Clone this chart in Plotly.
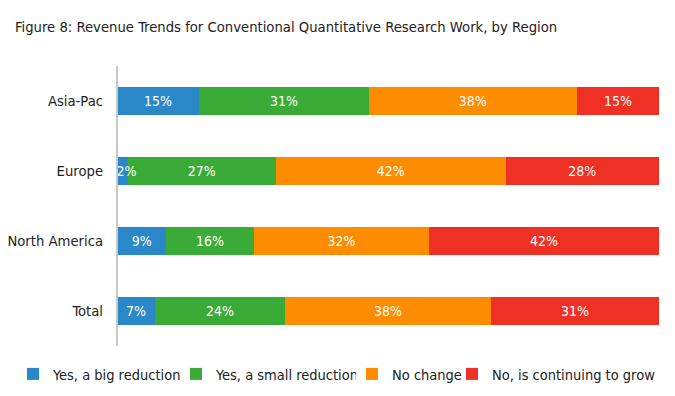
import plotly.graph_objects as go

regions = ["Asia-Pac", "Europe", "North America", "Total"]
series_names = ["Yes, a big reduction", "Yes, a small reduction", "No change", "No, is continuing to grow"]
big_reduction = [15, 2, 9, 7]
small_reduction = [31, 27, 16, 24]
no_change = [38, 42, 32, 38]
growing = [15, 28, 42, 31]
colors = ["#2a88c8", "#3bab38", "#fe8c00", "#ee3124"]

FONT = "DejaVu Sans Condensed, Liberation Sans Narrow, sans-serif"
W, H = 667, 388  # page body has an 8px margin

legend_ids = ["legend", "legend", "legend2", "legend2"]
legend_widths = [118, 135, 55, 168]
z_orders = [1, 0, 0, 0]  # first series on top so its labels can spill over


def label(v):
    # very thin segments: nudge the label right so it starts at the bar edge
    return ("\u00a0\u00a0" if v < 5 else "") + f"{v}%"


fig = go.Figure()
for name, vals, col, lg, lw, z in zip(series_names, [big_reduction, small_reduction, no_change, growing],
                                      colors, legend_ids, legend_widths, z_orders):
    fig.add_trace(go.Bar(
        y=regions, x=vals, name=name, orientation="h",
        marker=dict(color=col, line=dict(width=0)),
        text=[label(v) for v in vals], textposition="inside",
        insidetextanchor="middle", textangle=0, constraintext="none",
        textfont=dict(color="white", size=14, family=FONT),
        hoverinfo="skip", legend=lg, legendwidth=lw, zorder=z,
    ))

legend_common = dict(orientation="h", xref="container", yref="container",
                     xanchor="left", y=1 - 366 / H, yanchor="middle",
                     font=dict(size=14.5, family=FONT, color="#222222"),
                     traceorder="normal", itemwidth=30, bgcolor="rgba(0,0,0,0)")

fig.update_layout(
    barmode="stack", barnorm="percent", bargap=0.6,
    width=W, height=H,
    margin=dict(l=109, r=16, t=58, b=50, autoexpand=False),
    paper_bgcolor="white", plot_bgcolor="white",
    font=dict(family=FONT, size=14.7, color="#222222"),
    uniformtext=dict(mode="show", minsize=14),
    title=dict(text="Figure 8: Revenue Trends for Conventional Quantitative Research Work, by Region",
               x=7 / W, xanchor="left", xref="container",
               y=1 - 19 / H, yanchor="middle", yref="container",
               font=dict(size=14.7, family=FONT, color="#222222")),
    xaxis=dict(visible=False, range=[0, 100], fixedrange=True),
    yaxis=dict(autorange="reversed", showline=True, linecolor="#c8c8c8", linewidth=2,
               ticks="", ticklabelstandoff=9, showgrid=False, zeroline=False, automargin=False,
               tickfont=dict(size=14.7, family=FONT, color="#222222")),
    legend=dict(x=5 / W, **legend_common),
    legend2=dict(x=344 / W, **legend_common),
    showlegend=True,
    shapes=[dict(type="line", xref="paper", yref="paper", x0=0, x1=0, y0=0, y1=1,
                 line=dict(color="#c8c8c8", width=2), layer="above")],
)

fig.write_html("out.html")
